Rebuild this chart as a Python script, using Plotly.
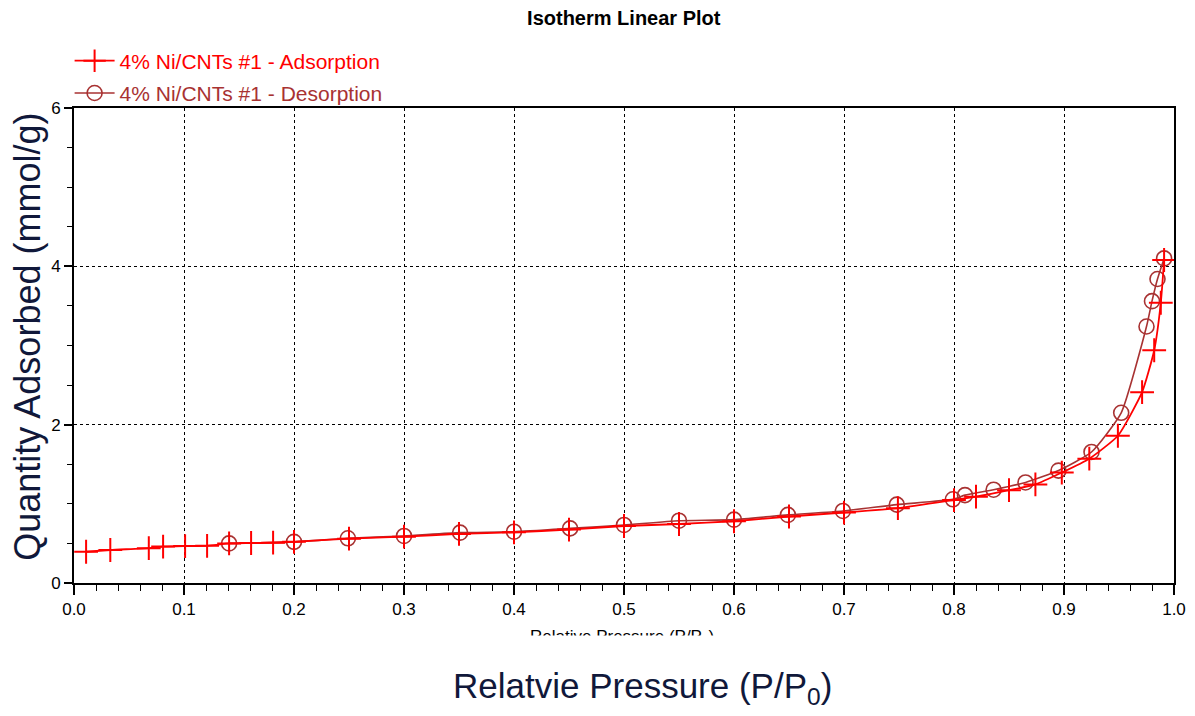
import plotly.graph_objects as go

# Adsorption branch (relative pressure, quantity adsorbed in mmol/g)
ads_p = [0.011, 0.033, 0.068, 0.081, 0.101, 0.121, 0.141, 0.161, 0.181, 0.200,
         0.250, 0.300, 0.350, 0.400, 0.450, 0.500, 0.550, 0.600, 0.650, 0.700,
         0.749, 0.800, 0.820, 0.850, 0.874, 0.898, 0.923, 0.949, 0.971, 0.982,
         0.988, 0.991]
ads_q = [0.395, 0.417, 0.440, 0.460, 0.467, 0.470, 0.500, 0.505, 0.510, 0.520,
         0.560, 0.585, 0.620, 0.640, 0.675, 0.720, 0.745, 0.780, 0.840, 0.890,
         0.945, 1.048, 1.090, 1.172, 1.245, 1.395, 1.570, 1.860, 2.410, 2.940,
         3.540, 4.080]

# Desorption branch
des_p = [0.991, 0.985, 0.980, 0.975, 0.952, 0.925, 0.895, 0.865, 0.836, 0.810,
         0.799, 0.748, 0.699, 0.649, 0.600, 0.550, 0.500, 0.451, 0.400, 0.351,
         0.300, 0.249, 0.200, 0.141]
des_q = [4.100, 3.840, 3.560, 3.240, 2.150, 1.655, 1.420, 1.270, 1.178, 1.110,
         1.057, 0.990, 0.910, 0.860, 0.800, 0.787, 0.733, 0.690, 0.648, 0.636,
         0.594, 0.565, 0.520, 0.500]

x_ticks = [0.0, 0.1, 0.2, 0.3, 0.4, 0.5, 0.6, 0.7, 0.8, 0.9, 1.0]
x_tick_text = ["0.0", "0.1", "0.2", "0.3", "0.4", "0.5", "0.6", "0.7", "0.8", "0.9", "1.0"]
y_ticks = [0, 2, 4, 6]

ADS_COLOR = "#FF0000"
DES_COLOR = "#A83232"
FONT = "Liberation Sans, Arial, sans-serif"

ads_name = "4% Ni/CNTs #1 - Adsorption"
des_name = "4% Ni/CNTs #1 - Desorption"

fig = go.Figure()

fig.add_trace(go.Scatter(
    x=des_p, y=des_q, legendgroup="des", legendrank=2,
    name=f'<span style="color:{DES_COLOR}">{des_name}</span>',
    mode="lines+markers",
    line=dict(color=DES_COLOR, width=1.6, shape="spline", smoothing=0.5),
    marker=dict(symbol="circle-open", size=15, color=DES_COLOR,
                line=dict(width=1.6, color=DES_COLOR)),
))
fig.add_trace(go.Scatter(
    x=ads_p, y=ads_q, legendgroup="ads", legendrank=1,
    name=f'<span style="color:{ADS_COLOR}">{ads_name}</span>',
    mode="lines+markers",
    line=dict(color=ADS_COLOR, width=1.8, shape="spline", smoothing=0.5),
    marker=dict(symbol="cross-thin", size=17, color=ADS_COLOR,
                line=dict(width=2, color=ADS_COLOR)),
))

fig.update_layout(
    width=1195, height=716,
    margin=dict(l=74, r=21, t=108, b=133, autoexpand=False),
    paper_bgcolor="white", plot_bgcolor="white",
    font=dict(family=FONT, color="black"),
    title=dict(text="<b>Isotherm Linear Plot</b>", x=0.522, xanchor="center",
               y=0.975, yanchor="middle", font=dict(size=20, family=FONT)),
    legend=dict(x=-0.004, y=1.142, xanchor="left", yanchor="top",
                traceorder="grouped", bgcolor="rgba(0,0,0,0)",
                font=dict(size=21, family=FONT), itemwidth=40,
                tracegroupgap=2),
    showlegend=True,
)

fig.update_xaxes(
    range=[0, 1], tickvals=x_ticks, ticktext=x_tick_text,
    showline=True, linecolor="black", linewidth=2, mirror=True,
    ticks="outside", ticklen=10, tickwidth=1.5, tickcolor="black",
    tickfont=dict(size=17, family=FONT),
    minor=dict(dtick=0.02, ticks="outside", ticklen=6, tickwidth=1.2,
               tickcolor="black", showgrid=False),
    showgrid=True, gridcolor="black", gridwidth=1, griddash="dot",
    zeroline=False,
)
fig.update_yaxes(
    range=[0, 6], tickvals=y_ticks,
    showline=True, linecolor="black", linewidth=2, mirror=True,
    ticks="outside", ticklen=8, tickwidth=1.5, tickcolor="black",
    tickfont=dict(size=17, family=FONT),
    minor=dict(dtick=0.5, ticks="outside", ticklen=5, tickwidth=1.2,
               tickcolor="black", showgrid=False),
    showgrid=True, gridcolor="black", gridwidth=1, griddash="dot",
    zeroline=False,
)

annotations = [
    # small axis caption, partly hidden below by the white strip that follows
    dict(text="Relative Pressure (P/P<sub>0</sub>)", xref="paper", yref="paper",
         x=0.498, y=-0.0885, xanchor="center", yanchor="top", showarrow=False,
         font=dict(size=17, family=FONT, color="black")),
    dict(text=" ", xref="paper", yref="paper", x=0.5, y=-0.1085,
         xanchor="center", yanchor="top", showarrow=False,
         width=700, height=40, bgcolor="white"),
    dict(text="Relatvie Pressure (P/P<sub>0</sub>)", xref="paper", yref="paper",
         x=0.517, y=-0.221, xanchor="center", yanchor="middle", showarrow=False,
         font=dict(size=35, family=FONT, color="#10183a")),
    dict(text="Quantity Adsorbed (mmol/g)", xref="paper", yref="paper",
         x=-0.042, y=0.518, xanchor="center", yanchor="middle", showarrow=False,
         textangle=-90, font=dict(size=36, family=FONT, color="#10183a")),
]
fig.update_layout(annotations=annotations)

fig.write_html("out.html")
